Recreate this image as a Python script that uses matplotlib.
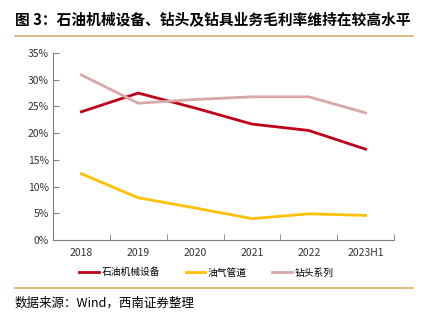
import matplotlib.pyplot as plt
from matplotlib.ticker import FuncFormatter, FixedLocator
from matplotlib.lines import Line2D

plt.rcParams['font.family'] = ['Noto Sans CJK SC', 'DejaVu Sans']

# data
years = ['2018', '2019', '2020', '2021', '2022', '2023H1']
oil_equipment = [24.0, 27.5, 24.7, 21.7, 20.5, 17.0]
pipeline = [12.4, 7.9, 6.0, 4.0, 4.9, 4.6]
drill_bits = [30.9, 25.6, 26.3, 26.8, 26.8, 23.8]

fig = plt.figure(figsize=(4.23, 3.25), dpi=100)
ax = fig.add_axes([53 / 423, 1 - 240 / 325, (394 - 53) / 423, (240 - 53) / 325])

x = range(len(years))
ax.plot(x, oil_equipment, color='#C00018', lw=2, label='石油机械设备')
ax.plot(x, pipeline, color='#FFC000', lw=2, label='油气管道')
ax.plot(x, drill_bits, color='#D8A8A8', lw=2, label='钻头系列')

ax.set_xlim(-0.5, len(years) - 0.5)
ax.set_ylim(0, 35)
ax.set_yticks(range(0, 36, 5))
ax.yaxis.set_major_formatter(FuncFormatter(lambda v, p: f'{v:.0f}%'))
ax.set_xticks(list(x))
ax.set_xticklabels(years)
ax.xaxis.set_minor_locator(FixedLocator([i + 0.5 for i in x]))
ax.tick_params(axis='x', which='major', length=0, pad=6)
ax.tick_params(axis='x', which='minor', length=4, direction='in', color='#808080')
ax.tick_params(axis='y', length=4, direction='in', color='#808080', pad=3)
ax.tick_params(labelsize=7.5, labelcolor='#333333')
for s in ['top', 'right']:
    ax.spines[s].set_visible(False)
for s in ['left', 'bottom']:
    ax.spines[s].set_color('#808080')
    ax.spines[s].set_linewidth(0.8)

ax.legend(loc='upper center', bbox_to_anchor=(0.45, -0.1), ncol=3, frameon=False,
          fontsize=7, handlelength=2.0, handletextpad=0.3, columnspacing=2.6)

fig.text(0.035, 1 - 19 / 325, '图 3：石油机械设备、钻头及钻具业务毛利率维持在较高水平',
         fontsize=10.6, fontweight='bold', va='center')
fig.add_artist(Line2D([15 / 423, 413 / 423], [1 - 36 / 325] * 2, color='#D8B070', lw=1.2))
fig.add_artist(Line2D([15 / 423, 413 / 423], [1 - 288 / 325] * 2, color='#D8B070', lw=1.2))
fig.text(0.035, 1 - 303 / 325, '数据来源：Wind，西南证券整理', fontsize=9,
         style='italic', va='center')

fig.savefig('out.png', dpi=100)
